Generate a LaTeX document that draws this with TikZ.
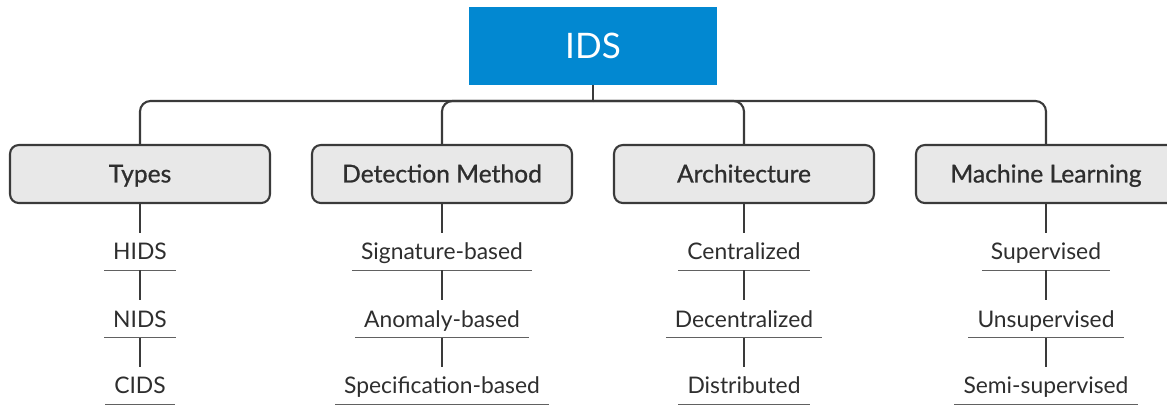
\documentclass[tikz,border=0pt]{standalone}
\usepackage{fontspec}
\setmainfont{Lato}
\newfontfamily\headfont[FakeBold=0.8]{Lato}
\definecolor{idsblue}{HTML}{0288D1}
\definecolor{boxgray}{HTML}{E8E8E8}
\definecolor{linegray}{HTML}{3A3A3A}
\definecolor{textgray}{HTML}{2E2E2E}
\tikzset{
  rootbox/.style={fill=idsblue, text=white, minimum width=4.96cm, minimum height=1.56cm, font=\fontsize{20}{24}\selectfont},
  catbox/.style={draw=linegray, line width=1.2pt, fill=boxgray, rounded corners=5pt, minimum width=5.2cm, minimum height=1.16cm, text height=2.3ex, text depth=0.4ex, text=textgray, font=\headfont\fontsize{14}{17}\selectfont},
  leaf/.style={minimum height=0.74cm, inner xsep=5pt, text height=2.2ex, text depth=0.4ex, text=textgray, font=\fontsize{13}{16}\selectfont, append after command={(\tikzlastnode.south west) edge[draw=linegray!80, line width=0.6pt] (\tikzlastnode.south east)}},
  trunk/.style={draw=linegray, line width=1.2pt, rounded corners=6pt},
  twig/.style={draw=linegray, line width=0.6pt}
}
\begin{document}
\begin{tikzpicture}[x=0.02cm, y=-0.02cm]
\useasboundingbox (0,0) rectangle (1167,407);
\node (ids) at (593,46) [rootbox] {IDS};
\coordinate (hub) at (593,101);
\node (types) at (140,174) [catbox] {Types};
\node (detect) at (442,174) [catbox] {Detection Method};
\node (arch) at (744,174) [catbox] {Architecture};
\node (ml) at (1046,174) [catbox] {Machine Learning};
\draw[trunk] (ids.south) -- (hub);
\foreach \c in {types,detect,arch,ml}
  \draw[trunk] (hub) -| (\c.north);
\node (hids) at (140,251.5) [leaf] {HIDS};
\node (nids) at (140,319) [leaf] {NIDS};
\node (cids) at (140,385.5) [leaf] {CIDS};
\node (sig) at (442,251.5) [leaf] {Signature-based};
\node (anom) at (442,319) [leaf] {Anomaly-based};
\node (spec) at (442,385.5) [leaf] {Specification-based};
\node (cent) at (744,251.5) [leaf] {Centralized};
\node (decent) at (744,319) [leaf] {Decentralized};
\node (dist) at (744,385.5) [leaf] {Distributed};
\node (sup) at (1046,251.5) [leaf] {Supervised};
\node (unsup) at (1046,319) [leaf] {Unsupervised};
\node (semi) at (1046,385.5) [leaf] {Semi-supervised};
\draw[twig] (types) -- (hids) (hids) -- (nids) (nids) -- (cids);
\draw[twig] (detect) -- (sig) (sig) -- (anom) (anom) -- (spec);
\draw[twig] (arch) -- (cent) (cent) -- (decent) (decent) -- (dist);
\draw[twig] (ml) -- (sup) (sup) -- (unsup) (unsup) -- (semi);
\end{tikzpicture}
\end{document}
